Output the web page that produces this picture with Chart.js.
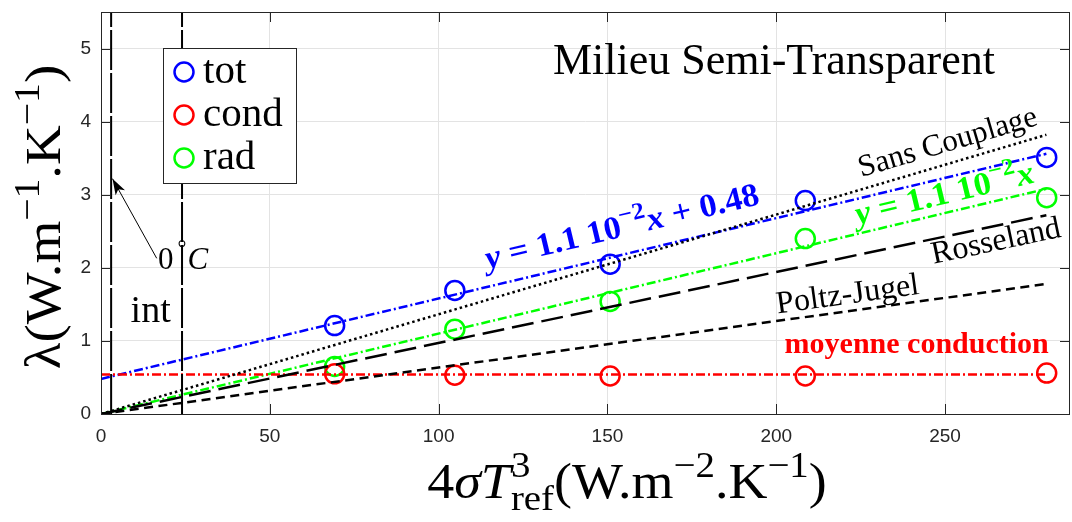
<!DOCTYPE html>
<html>
<head>
<meta charset="utf-8">
<script src="https://cdn.jsdelivr.net/npm/chart.js@4.4.1/dist/chart.umd.min.js"></script>
<style>
  html, body { margin: 0; padding: 0; background: #fff; }
  #wrap { width: 1072px; height: 522px; }
</style>
</head>
<body>
<div id="wrap"><canvas id="chart" width="1072" height="522"></canvas></div>
<script>
// measured points (x = 4 sigma T_ref^3)
const xMeas = [69.2, 104.8, 150.8, 208.6, 280.1];
const lamTot = [1.21, 1.69, 2.05, 2.92, 3.51];
const lamCond = [0.55, 0.53, 0.52, 0.52, 0.56];
const lamRad = [0.65, 1.16, 1.54, 2.40, 2.96];

// fitted / model lines (two end points each)
const fitX = [0, 280];
const fitTot = [0.48, 3.56];
const fitRad = [0, 3.08];
const condMean = [0.54, 0.54];
const sansCouplage = [0, 3.82];
const rosseland = [0, 2.72];
const poltzJugel = [0, 1.78];

// vertical markers
const vLineX = [3.0, 24.0];
const vLineY = [0, 5.5];

const xTicks = [0, 50, 100, 150, 200, 250];
const yTicks = [0, 1, 2, 3, 4, 5];

const BLUE = '#0000ff', RED = '#ff0000', GREEN = '#00ff00';
const SERIF = "'Liberation Serif', 'DejaVu Serif', serif";
const SANS = "'Liberation Sans', Arial, sans-serif";

const pts = ys => ys.map((y, i) => ({ x: xMeas[i], y }));
const seg = (xs, ys) => xs.map((x, i) => ({ x, y: ys[i] }));

function lineSet(data, color, dash, width) {
  return { data, showLine: true, borderColor: color, borderWidth: width || 2.5,
    borderDash: dash, pointRadius: 0, fill: false };
}
function pointSet(label, data, color) {
  return { label, data, showLine: false, borderColor: color, backgroundColor: 'rgba(0,0,0,0)',
    pointRadius: 9.5, pointBorderWidth: 2.5, pointStyle: 'circle' };
}

// draw text made of normal / superscript / subscript parts
function drawRich(ctx, parts, x, y, o) {
  const sz = o.size;
  const fontOf = p => {
    const s = (p.sup || p.sub) ? sz * 0.72 : sz;
    return `${p.it ? 'italic ' : ''}${o.weight || ''} ${s}px ${o.family}`;
  };
  ctx.save();
  ctx.translate(x, y);
  if (o.angle) ctx.rotate(o.angle);
  if (o.sx) ctx.scale(o.sx, 1);
  ctx.fillStyle = o.color || '#000';
  ctx.textBaseline = 'alphabetic';
  ctx.textAlign = 'left';
  let total = 0;
  parts.forEach(p => { ctx.font = fontOf(p); p.w = ctx.measureText(p.t).width + (p.gap || 0); if (!p.keep) total += p.w; });
  let cx = o.align === 'left' ? 0 : -total / 2;
  parts.forEach(p => {
    ctx.font = fontOf(p);
    const dy = p.sup ? -0.42 * sz : p.sub ? 0.24 * sz : 0;
    ctx.fillText(p.t, cx, dy);
    if (!p.keep) cx += p.w;
  });
  ctx.restore();
}

const decorPlugin = {
  id: 'decor',
  afterDraw(chart) {
    const ctx = chart.ctx, a = chart.chartArea;
    const xs = chart.scales.x, ys = chart.scales.y;
    const px = v => xs.getPixelForValue(v), py = v => ys.getPixelForValue(v);
    const ang = (yy) => Math.atan2(py(yy[1]) - py(yy[0]), px(fitX[1]) - px(fitX[0]));

    ctx.save();
    // axes box and inner ticks
    ctx.strokeStyle = '#262626';
    ctx.lineWidth = 1;
    ctx.strokeRect(a.left + 0.5, a.top + 0.5, a.right - a.left - 1, a.bottom - a.top);
    ctx.beginPath();
    xTicks.forEach(v => {
      const X = Math.round(px(v)) + 0.5;
      ctx.moveTo(X, a.bottom); ctx.lineTo(X, a.bottom - 10);
      ctx.moveTo(X, a.top); ctx.lineTo(X, a.top + 10);
    });
    yTicks.forEach(v => {
      const Y = Math.round(py(v)) + 0.5;
      ctx.moveTo(a.left, Y); ctx.lineTo(a.left + 10, Y);
      ctx.moveTo(a.right, Y); ctx.lineTo(a.right - 10, Y);
    });
    ctx.stroke();

    // arrow pointing to 0 degC line
    const tip = { x: px(3.4), y: py(3.22) }, tail = { x: px(16.5), y: py(2.13) };
    ctx.strokeStyle = '#000'; ctx.fillStyle = '#000'; ctx.lineWidth = 1;
    ctx.beginPath(); ctx.moveTo(tail.x, tail.y); ctx.lineTo(tip.x, tip.y); ctx.stroke();
    const th = Math.atan2(tip.y - tail.y, tip.x - tail.x);
    ctx.beginPath();
    ctx.moveTo(tip.x, tip.y);
    ctx.lineTo(tip.x - 17 * Math.cos(th - 0.32), tip.y - 17 * Math.sin(th - 0.32));
    ctx.lineTo(tip.x - 12 * Math.cos(th), tip.y - 12 * Math.sin(th));
    ctx.lineTo(tip.x - 17 * Math.cos(th + 0.32), tip.y - 17 * Math.sin(th + 0.32));
    ctx.closePath(); ctx.fill();
    ctx.restore();

    // labels inside the plot
    drawRich(ctx, [{ t: 'Milieu Semi-Transparent' }], px(199.3), py(4.65), { size: 44, family: SERIF });
    drawRich(ctx, [{ t: 'int' }], px(14.7), py(1.255), { size: 38, family: SERIF });
    drawRich(ctx, [{ t: '0', gap: 4 }, { t: '°', sup: true, gap: 1 }, { t: 'C', it: true }], px(24.3), py(1.99), { size: 31, family: SERIF });

    drawRich(ctx, [{ t: 'y', it: true }, { t: ' = 1.1 10' }, { t: '−2', sup: true }, { t: 'x', it: true }, { t: ' + 0.48' }],
      px(155), py(2.43), { size: 33, family: SERIF, weight: 'bold', color: BLUE, angle: ang(fitTot), sx: 1.05 });
    drawRich(ctx, [{ t: 'y', it: true }, { t: ' = 1.1 10' }, { t: '−2', sup: true }, { t: 'x', it: true }],
      px(250.5), py(2.88), { size: 33, family: SERIF, weight: 'bold', color: GREEN, angle: ang(fitRad), sx: 1.05 });
    drawRich(ctx, [{ t: 'Sans Couplage' }], px(251.5), py(3.6), { size: 31, family: SERIF, angle: ang(sansCouplage) });
    drawRich(ctx, [{ t: 'Rosseland' }], px(265.6), py(2.24), { size: 32, family: SERIF, angle: ang(rosseland) });
    drawRich(ctx, [{ t: 'Poltz-Jugel' }], px(221.5), py(1.51), { size: 32, family: SERIF, angle: ang(poltzJugel) });
    drawRich(ctx, [{ t: 'moyenne conduction' }], px(241.6), py(0.84), { size: 30, family: SERIF, weight: 'bold', color: RED });

    // legend
    ctx.save();
    ctx.fillStyle = '#fff'; ctx.strokeStyle = '#262626'; ctx.lineWidth = 1;
    ctx.fillRect(163.5, 48.5, 133, 135); ctx.strokeRect(163.5, 48.5, 133, 135);
    const leg = [['tot', BLUE], ['cond', RED], ['rad', GREEN]];
    leg.forEach((l, i) => {
      const cy = 72 + i * 43;
      ctx.beginPath(); ctx.arc(184, cy, 9.5, 0, Math.PI * 2);
      ctx.strokeStyle = l[1]; ctx.lineWidth = 2.5; ctx.stroke();
      ctx.fillStyle = '#000'; ctx.font = `41px ${SERIF}`; ctx.textAlign = 'left'; ctx.textBaseline = 'alphabetic';
      ctx.fillText(l[0], 203, cy + 11);
    });
    ctx.restore();

    // axis titles
    drawRich(ctx, [{ t: 'λ(W.m' }, { t: '−1', sup: true }, { t: '.K' }, { t: '−1', sup: true }, { t: ')' }],
      60, 217, { size: 50, family: SERIF, angle: -Math.PI / 2, sx: 1.1 });
    drawRich(ctx, [{ t: '4' }, { t: 'σT', it: true }, { t: '3', sup: true, keep: true }, { t: 'ref', sub: true },
      { t: '(W.m' }, { t: '−2', sup: true }, { t: '.K' }, { t: '−1', sup: true }, { t: ')' }],
      627, 498, { size: 50, family: SERIF, sx: 1.08 });
  }
};

const noPad = s => { s.paddingTop = 0; s.paddingBottom = 0; s.paddingLeft = 0; s.paddingRight = 0; };
const dashDot = [9, 3, 2, 3];

new Chart(document.getElementById('chart'), {
  type: 'scatter',
  data: {
    datasets: [
      lineSet(seg([vLineX[0], vLineX[0]], vLineY), '#000', [40, 3], 2),
      lineSet(seg([vLineX[1], vLineX[1]], vLineY), '#000', [40, 3], 2),
      lineSet(seg(fitX, sansCouplage), '#000', [2.5, 3]),
      lineSet(seg(fitX, rosseland), '#000', [22, 8]),
      lineSet(seg(fitX, poltzJugel), '#000', [9, 5.5]),
      lineSet(seg(fitX, condMean), RED, dashDot),
      lineSet(seg(fitX, fitTot), BLUE, dashDot),
      lineSet(seg(fitX, fitRad), GREEN, dashDot),
      pointSet('tot', pts(lamTot), BLUE),
      pointSet('cond', pts(lamCond), RED),
      pointSet('rad', pts(lamRad), GREEN)
    ]
  },
  options: {
    responsive: false,
    animation: false,
    layout: { autoPadding: false, padding: { top: 12, right: 2, left: 0, bottom: 0 } },
    plugins: { legend: { display: false }, tooltip: { enabled: false } },
    scales: {
      x: {
        type: 'linear', min: 0, max: 287,
        afterBuildTicks: s => { s.ticks = xTicks.map(v => ({ value: v })); },
        afterFit: s => { s.height = 108; noPad(s); },
        grid: { color: '#e3e3e3', drawTicks: false },
        border: { display: false },
        ticks: { font: { family: SANS, size: 19 }, color: '#262626', padding: 11, maxRotation: 0 }
      },
      y: {
        type: 'linear', min: 0, max: 5.5,
        afterBuildTicks: s => { s.ticks = yTicks.map(v => ({ value: v })); },
        afterFit: s => { s.width = 101; noPad(s); },
        grid: { color: '#e3e3e3', drawTicks: false },
        border: { display: false },
        ticks: { font: { family: SANS, size: 19 }, color: '#262626', padding: 10 }
      }
    }
  },
  plugins: [decorPlugin]
});
</script>
</body>
</html>
